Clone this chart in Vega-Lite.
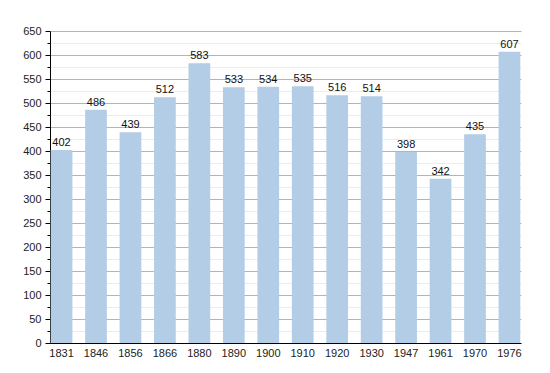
{
  "$schema": "https://vega.github.io/schema/vega-lite/v6.json",
  "width": 471,
  "height": 312,
  "autosize": "none",
  "padding": {"left": 50, "top": 31, "right": 29, "bottom": 30},
  "background": "white",
  "config": {"view": {"stroke": null}, "font": "Liberation Sans"},
  "data": {"values": [
    {"year": "1831", "pop": 402},
    {"year": "1846", "pop": 486},
    {"year": "1856", "pop": 439},
    {"year": "1866", "pop": 512},
    {"year": "1880", "pop": 583},
    {"year": "1890", "pop": 533},
    {"year": "1900", "pop": 534},
    {"year": "1910", "pop": 535},
    {"year": "1920", "pop": 516},
    {"year": "1930", "pop": 514},
    {"year": "1947", "pop": 398},
    {"year": "1961", "pop": 342},
    {"year": "1970", "pop": 435},
    {"year": "1976", "pop": 607}
  ]},
  "encoding": {
    "x": {"field": "year", "type": "nominal", "sort": null,
      "scale": {"paddingInner": 0.37, "paddingOuter": 0.02},
      "axis": {"title": null, "labelAngle": 0, "ticks": false, "labelPadding": 4, "labelFontSize": 11, "labelColor": "#222", "domainColor": "#000", "domainWidth": 1}},
    "y": {"field": "pop", "type": "quantitative",
      "scale": {"domain": [0, 650], "nice": false},
      "axis": {"title": null,
        "values": [0,25,50,75,100,125,150,175,200,225,250,275,300,325,350,375,400,425,450,475,500,525,550,575,600,625,650],
        "labelExpr": "datum.value % 50 === 0 ? datum.label : ''",
        "labelFontSize": 11, "labelColor": "#222", "labelPadding": 4,
        "domainColor": "#000", "domainWidth": 1,
        "tickColor": "#000",
        "tickSize": {"condition": {"test": "datum.value % 50 === 0", "value": 5}, "value": 3},
        "grid": true,
        "gridColor": {"condition": {"test": "datum.value % 50 === 0", "value": "#b4b4b4"}, "value": "#ececec"}}}
  },
  "layer": [
    {"mark": {"type": "bar", "color": "#b3cde6"}},
    {"mark": {"type": "text", "baseline": "bottom", "dy": -2, "fontSize": 11, "color": "#111"},
     "encoding": {"text": {"field": "pop", "type": "quantitative"}}}
  ]
}
